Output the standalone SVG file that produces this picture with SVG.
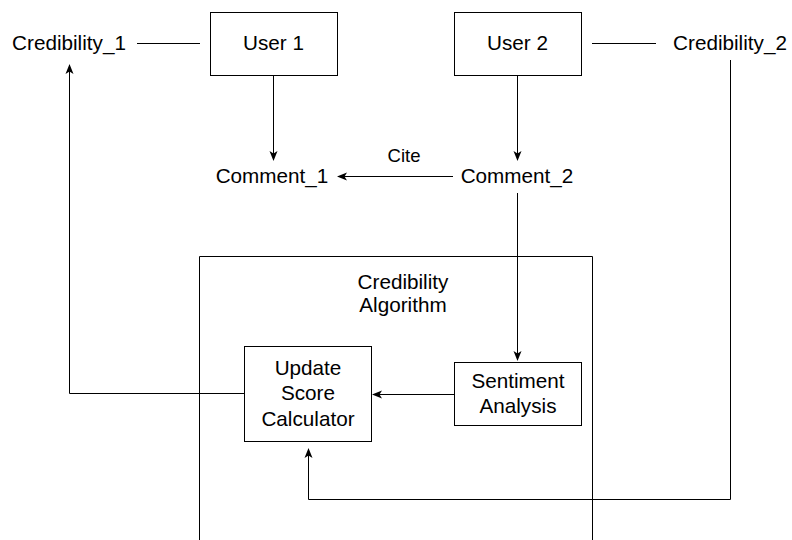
<svg xmlns="http://www.w3.org/2000/svg" width="792" height="540" viewBox="0 0 792 540">
<defs>
<style>
text{font-family:"Liberation Sans",Arial,Helvetica,sans-serif;font-size:20.7px;fill:#000;text-anchor:middle}
.lbl{font-size:18.5px}
.box{fill:#fff;stroke:#000;stroke-width:1}
.c{fill:none;stroke:#000;stroke-width:1}
</style>
<marker id="arr" viewBox="0 0 10 10" refX="9" refY="5" markerWidth="10" markerHeight="10" markerUnits="userSpaceOnUse" orient="auto">
<path d="M0,1 L10,5 L0,9 L2.5,5 Z" fill="#000"/>
</marker>
</defs>
<rect width="792" height="540" fill="#fff"/>
<g id="connectors">
<path class="c" d="M137,43.5 H200"/>
<path class="c" d="M592,43.5 H656"/>
<path class="c" d="M273.5,75 V160" marker-end="url(#arr)"/>
<path class="c" d="M517.5,75 V160" marker-end="url(#arr)"/>
<path class="c" d="M453,176.5 H338" marker-end="url(#arr)"/>
<path class="c" d="M517.5,193 V360" marker-end="url(#arr)"/>
<path class="c" d="M454,394.5 H373" marker-end="url(#arr)"/>
<path class="c" d="M244,393.5 H69.5 V65" marker-end="url(#arr)"/>
<path class="c" d="M730.5,60 V499.5 H308.5 V449" marker-end="url(#arr)"/>
<text class="lbl" x="404" y="162">Cite</text>
</g>
<g id="credibility-algorithm">
<path class="c" d="M199.5,540 V256.5 H592.5 V540"/>
<text x="403" y="289">Credibility</text>
<text x="403" y="312">Algorithm</text>
</g>
<g id="credibility1"><text x="69" y="50">Credibility_1</text></g>
<g id="user1"><rect class="box" x="210.5" y="12.5" width="127" height="63"/><text x="273.5" y="50">User 1</text></g>
<g id="user2"><rect class="box" x="454.5" y="12.5" width="127" height="63"/><text x="517.5" y="50">User 2</text></g>
<g id="credibility2"><text x="730" y="50">Credibility_2</text></g>
<g id="comment1"><text x="272" y="183">Comment_1</text></g>
<g id="comment2"><text x="517" y="183">Comment_2</text></g>
<g id="update-score"><rect class="box" x="244.5" y="346.5" width="127" height="95"/>
<text x="308" y="375">Update</text><text x="308" y="400">Score</text><text x="308" y="426">Calculator</text></g>
<g id="sentiment"><rect class="box" x="454.5" y="362.5" width="127" height="63"/>
<text x="518" y="388">Sentiment</text><text x="518" y="413">Analysis</text></g>
</svg>
